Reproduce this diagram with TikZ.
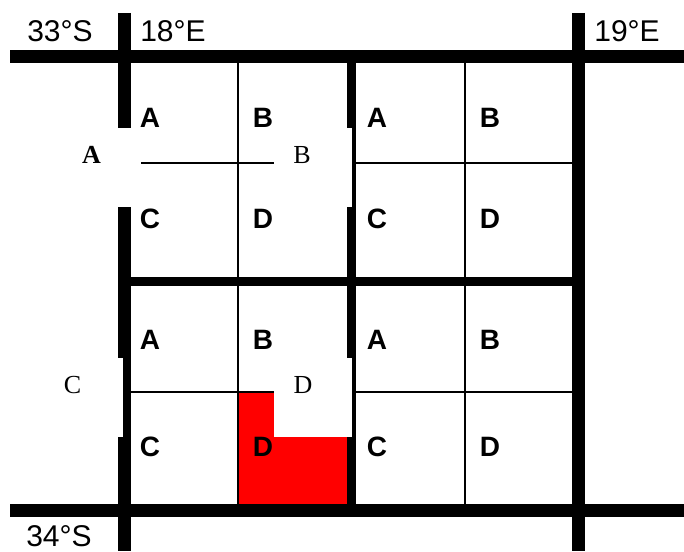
\documentclass[tikz,border=0pt]{standalone}
\usepackage{fontspec}
\setmainfont{Liberation Serif}
\setsansfont{Liberation Sans}
\usepackage{tikz}
\usepackage{xcolor}

\begin{document}
\begin{tikzpicture}[x=0.5pt,y=-0.5pt,
  degline/.style={line width=6.5pt},
  halfline/.style={line width=4.5pt},
  qline/.style={line width=1pt},
  coordlabel/.style={font=\sffamily\fontsize{15}{15}\selectfont, inner sep=0pt},
  cell/.style={font=\sffamily\bfseries\fontsize{14}{14}\selectfont, inner sep=0pt},
  sheet/.style={font=\fontsize{13}{13}\selectfont, inner sep=0pt}]
\useasboundingbox (0,0) rectangle (684,551);

% selected sheet
\fill[red] (238,392) rectangle (347,504);

% quarter-degree lines
\draw[qline] (238,63) -- (238,504);
\draw[qline] (465,63) -- (465,504);
\draw[qline] (131,163) -- (572,163);
\draw[qline] (131,392) -- (572,392);

% half-degree lines
\draw[halfline] (351.5,63) -- (351.5,504);
\draw[halfline] (131,281.5) -- (572,281.5);

% full degree lines
\draw[degline] (10,56.5) -- (684,56.5);
\draw[degline] (10,510.5) -- (684,510.5);
\draw[degline] (124.5,13) -- (124.5,551);
\draw[degline] (578.5,13) -- (578.5,551);

% blanks behind the half-degree letters
\fill[white] (60,128) rectangle (141,207);
\fill[white] (274,128) rectangle (352,207);
\fill[white] (40,358) rectangle (122.5,437);
\fill[white] (274,358) rectangle (352,437);

% latitude / longitude
\node[coordlabel] (lat33) at (60,31) {33°S};
\node[coordlabel] (lon18) at (173,31) {18°E};
\node[coordlabel] (lon19) at (627,31) {19°E};
\node[coordlabel] (lat34) at (59,536) {34°S};

% half-degree blocks
\node[sheet, font=\bfseries\fontsize{13}{13}\selectfont] (hA) at (91.5,154.5) {A};
\node[sheet] (hB) at (302,155.5) {B};
\node[sheet] (hC) at (72.5,385.5) {C};
\node[sheet] (hD) at (303,385.5) {D};

% block A
\node[cell] (aA) at (150,118) {A};
\node[cell] (aB) at (263,118) {B};
\node[cell] (aC) at (150,219) {C};
\node[cell] (aD) at (263,219) {D};

% block B
\node[cell] (bA) at (377,118) {A};
\node[cell] (bB) at (490,118) {B};
\node[cell] (bC) at (377,219) {C};
\node[cell] (bD) at (490,219) {D};

% block C
\node[cell] (cA) at (150,340) {A};
\node[cell] (cB) at (263,340) {B};
\node[cell] (cC) at (150,447) {C};
\node[cell] (cD) at (263,447) {D};

% block D
\node[cell] (dA) at (377,340) {A};
\node[cell] (dB) at (490,340) {B};
\node[cell] (dC) at (377,447) {C};
\node[cell] (dD) at (490,447) {D};
\end{tikzpicture}
\end{document}
